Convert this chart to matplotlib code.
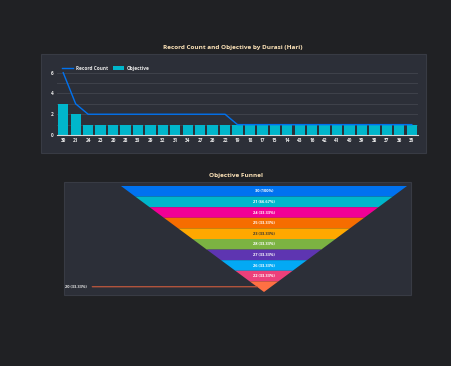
import matplotlib.pyplot as plt
from matplotlib.patches import Rectangle, Polygon, Patch
from matplotlib.lines import Line2D

plt.rcParams['font.family'] = ['Open Sans', 'DejaVu Sans']
plt.rcParams['font.weight'] = 'bold'

# datos del grafico de barras
durasi = ["30", "21", "24", "23", "20", "28", "33", "29", "32", "31", "34", "27", "26", "22",
          "19", "18", "17", "15", "14", "43", "16", "42", "41", "40", "39", "38", "37", "36", "35"]
record_count = [6, 3, 2, 2, 2, 2, 2, 2, 2, 2, 2, 2, 2, 2,
                1, 1, 1, 1, 1, 1, 1, 1, 1, 1, 1, 1, 1, 1, 1]
objective = [3, 2, 1, 1, 1, 1, 1, 1, 1, 1, 1, 1, 1, 1,
             1, 1, 1, 1, 1, 1, 1, 1, 1, 1, 1, 1, 1, 1, 1]

# datos del funnel
funnel_labels = ["30", "21", "24", "25", "23", "28", "27", "26", "22", "20"]
funnel_values = [3, 2, 1, 1, 1, 1, 1, 1, 1, 1]
funnel_colors = ['#0072f0', '#00b6cb', '#f10096', '#f66d00', '#ffa800',
                 '#7cb342', '#5e35b1', '#03a9f4', '#ec407a', '#ff7043']

W, H = 451, 366
bg = '#202124'
panel = '#2c2f38'
txt = '#e8e8e8'
title_col = '#fde3b8'

fig = plt.figure(figsize=(W / 100, H / 100), dpi=100, facecolor=bg)

def px(x0, y0, x1, y1):
    # caja en pixeles -> fraccion de figura
    return [x0 / W, 1 - y1 / H, (x1 - x0) / W, (y1 - y0) / H]

# paneles
for (x0, y0, x1, y1) in [(41, 54, 426, 153), (64, 182, 411, 295)]:
    b = px(x0, y0, x1, y1)
    fig.add_artist(Rectangle((b[0], b[1]), b[2], b[3], transform=fig.transFigure,
                             facecolor=panel, edgecolor='#383b44', linewidth=0.8, zorder=0))

fig.text(233 / W, 1 - 47.5 / H, 'Record Count and Objective by Durasi (Hari)',
         ha='center', va='center', color=title_col, fontsize=4.6, fontweight='bold')
fig.text(236 / W, 1 - 176 / H, 'Objective Funnel',
         ha='center', va='center', color=title_col, fontsize=4.6, fontweight='bold')

# grafico de barras + linea
ax = fig.add_axes(px(57, 72.7, 418, 135))
ax.set_facecolor('none')
x = list(range(len(durasi)))
ax.bar(x, objective, width=0.83, color='#00b6cb', zorder=2)
ax.plot(x, record_count, color='#0072f0', linewidth=1.0, zorder=3, clip_on=False)
ax.set_xlim(-0.5, len(durasi) - 0.5)
ax.set_ylim(0, 6)
ax.set_yticks([0, 2, 4, 6])
ax.set_yticks([1, 3, 5], minor=True)
ax.set_xticks(x)
ax.set_xticklabels(durasi)
ax.tick_params(axis='both', which='both', length=0, colors=txt, labelsize=3.4, pad=2.5)
ax.grid(axis='y', which='both', color='#3e414a', linewidth=0.8, zorder=0)
for s in ['top', 'right', 'left']:
    ax.spines[s].set_visible(False)
ax.spines['bottom'].set_color('#d8d8d8')
ax.spines['bottom'].set_linewidth(0.8)
ax.spines['bottom'].set_zorder(4)

handles = [Line2D([0], [0], color='#0072f0', linewidth=1.0),
           Patch(facecolor='#00b6cb')]
ax.legend(handles, ['Record Count', 'Objective'], ncol=2, loc='lower left',
          bbox_to_anchor=(0.013, 1.03), frameon=False, fontsize=3.4, labelcolor=txt,
          handlelength=2.4, handleheight=0.9, handletextpad=0.6, columnspacing=1.0,
          borderaxespad=0, borderpad=0)

# funnel
fx = fig.add_axes(px(121, 186, 407, 292))
fx.set_facecolor('none')
fx.axis('off')
n = len(funnel_labels)
fx.set_xlim(-1, 1)
fx.set_ylim(n, 0)
top = max(funnel_values)
for i in range(n):
    w0 = 1 - i / n
    w1 = 1 - (i + 1) / n
    fx.add_patch(Polygon([(-w0, i), (w0, i), (w1, i + 1), (-w1, i + 1)],
                         closed=True, facecolor=funnel_colors[i], edgecolor='none'))
    lab = '%s (%s%%)' % (funnel_labels[i], ('%.2f' % (100 * funnel_values[i] / top)).rstrip('0').rstrip('.'))
    if i < n - 1:
        col = '#333333' if funnel_colors[i] == '#ffa800' else 'white'
        fx.text(0, i + 0.5, lab, ha='center', va='center', color=col,
                fontsize=2.9, fontweight='bold')
    else:
        wm = 1 - (i + 0.5) / n
        fx.annotate(lab, xy=(-wm, i + 0.5), xytext=(65 / W, 1 - 286.7 / H),
                    textcoords='figure fraction', ha='left', va='center',
                    color=txt, fontsize=2.9, fontweight='bold',
                    arrowprops=dict(arrowstyle='-', color='#b0533c', linewidth=1.0,
                                    shrinkA=2, shrinkB=0))

fig.savefig('out.png', dpi=100, facecolor=bg)
